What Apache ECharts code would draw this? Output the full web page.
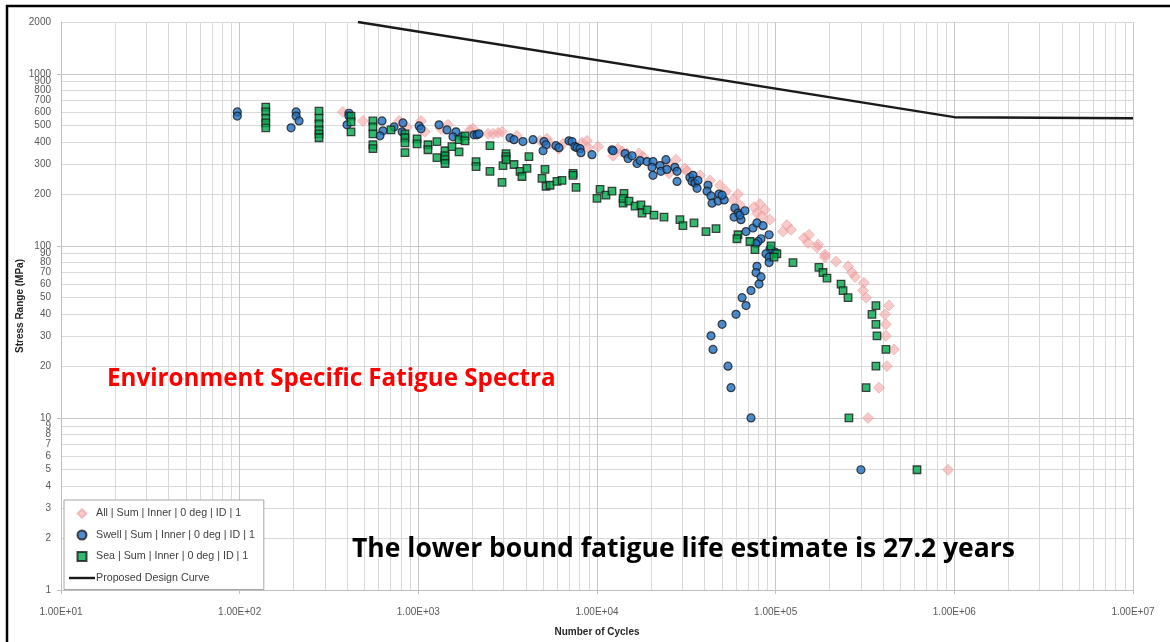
<!DOCTYPE html>
<html>
<head>
<meta charset="utf-8">
<script src="https://cdn.jsdelivr.net/npm/echarts@6/dist/echarts.min.js"></script>
<style>
html,body{margin:0;padding:0;background:#fff;}
#chart{width:1170px;height:642px;}
</style>
</head>
<body>
<div id="chart"></div>
<script>
// ---------- data ----------
const seriesNames = [
  'All | Sum | Inner | 0 deg | ID | 1',
  'Swell | Sum | Inner | 0 deg | ID | 1',
  'Sea | Sum | Inner | 0 deg | ID | 1',
  'Proposed Design Curve'
];

// [Number of cycles, Stress range (MPa)]
const allData = [
  [378,600],[490,532],[780,532],[865,491],[1035,532],[1089,460],[1340,479],[1466,505],
  [1945,472],[2023,479],[2455,448],[2618,448],[2793,454],[2940,460],[3565,436],[4800,408],
  [5250,419],[5460,392],[6120,367],[6450,392],[8240,397],[8790,408],[8910,372],[10130,377],
  [12300,334],[13100,367],[13800,353],[14720,344],[17180,344],[18070,330],[24950,301],[25290,264],
  [27670,317],[31050,282],[31900,271],[37700,257],[42850,240],[48750,225],[52720,208],[57700,185],
  [61520,200],[59160,162],[63100,173],[75700,168],[81660,175],[78560,155],[87100,162],[83750,149],
  [92900,142],[115600,132],[109900,121],[121900,124],[144200,111],[153800,116],[151800,104],
  [170300,98],[172600,102],[188800,89],[188800,86],[217800,81],[254200,76],[267400,70],[278000,66],
  [311900,61],[308300,55],[320600,50],[430500,45],[409000,40],[414000,35],[414000,30],[459000,25],
  [419700,20],[378500,15],[328900,10],[922000,5]
];

const swellData = [
  [97,600],[97,568],[207,600],[207,568],[215,532],[194,485],[409,590],[409,568],[399,505],
  [626,532],[634,466],[610,436],[731,491],[820,518],[811,460],[1010,498],[1035,479],[1306,505],
  [1446,472],[1624,460],[1563,430],[1754,430],[2050,442],[2130,442],[2186,448],[3260,425],
  [3430,414],[3850,404],[4385,414],[5050,404],[5185,387],[4990,357],[5890,382],[6120,372],
  [6970,408],[7245,404],[7530,377],[7730,372],[8035,367],[8130,348],[9370,339],[12130,362],
  [12300,357],[14360,344],[14930,322],[15710,334],[16750,301],[17420,313],[19060,309],[20580,309],
  [20320,286],[20580,257],[22540,293],[22800,271],[24320,317],[24620,278],[27290,286],[28050,271],
  [28050,237],[33110,250],[34430,257],[34030,237],[35320,231],[36300,216],[36730,240],[41800,225],
  [41300,208],[43470,195],[44050,177],[48220,200],[47640,182],[51520,185],[50120,197],[59160,166],
  [61520,155],[58480,147],[63970,142],[63100,151],[67300,160],[68230,121],[74650,127],[78560,136],
  [84920,131],[82800,110],[79640,106],[77620,103],[91850,116],[92900,96],[88310,90],[91850,86],
  [91850,80],[99100,92],[78560,76],[77620,70],[82800,66],[80700,60],[72780,55],[64860,50],
  [68230,45],[59980,40],[50120,35],[43470,30],[44600,25],[54080,20],[56230,15],[72780,10],[300000,5]
];

const seaData = [
  [140,640],[140,600],[140,553],[140,518],[140,485],[278,607],[278,553],[278,511],[278,472],
  [278,448],[278,425],[420,568],[420,525],[420,460],[557,532],[557,491],[557,448],[557,387],
  [557,367],[703,472],[842,448],[842,425],[842,397],[842,348],[984,419],[984,392],[1132,387],
  [1132,362],[1271,404],[1271,326],[1410,357],[1410,334],[1410,317],[1410,301],[1542,377],
  [1690,352],[1690,414],[1825,436],[1825,408],[2104,309],[2104,289],[2518,382],[2518,271],
  [2940,234],[2978,293],[3097,344],[3097,330],[3097,317],[3430,297],[3707,271],[3800,253],
  [4055,282],[4160,330],[5117,278],[4920,247],[5185,222],[5460,225],[5970,237],[6370,240],
  [7345,264],[7345,257],[7630,219],[10000,189],[10400,213],[11220,197],[12130,208],[14160,202],
  [14000,177],[14000,189],[15100,182],[16330,170],[17620,173],[17870,155],[19060,162],[20840,151],
  [23710,147],[29110,142],[30270,131],[34910,136],[40740,121],[46350,126],[61520,116],[60700,110],
  [71780,106],[76560,95],[94190,100],[101600,90],[97900,86],[125000,80],[174600,75],[184000,70],
  [193700,65],[232200,60],[238300,55],[254200,50],[364000,45],[345900,40],[364000,35],[369000,30],
  [414000,25],[364000,20],[320600,15],[257000,10],[618000,5]
];

const designCurve = [[459,2000],[1000000,560],[10000000,552]];

// axis ticks
const xDecades = [10,100,1000,10000,100000,1000000,10000000];
const xMultipliers = [1,2,3,4,5,6,7,8,9];
const yTickValues = [1,2,3,4,5,6,7,8,9,10,20,30,40,50,60,70,80,90,
  100,200,300,400,500,600,700,800,900,1000,2000];
const yDecades = [1,10,100,1000];

const xGridValues = [];
xDecades.forEach(function(d){ xMultipliers.forEach(function(m){ if (d*m <= 10000000) xGridValues.push(d*m); }); });

// ---------- chart ----------
const chart = echarts.init(document.getElementById('chart'), null, {renderer:'canvas'});
const labelFont = 'Liberation Sans, Arial, sans-serif';

function xFmt(v){
  const e = Math.round(Math.log10(v));
  return '1.00E+' + (e < 10 ? '0' + e : '' + e);
}

const option = {
  animation: false,
  backgroundColor: '#fff',
  grid: {left: 61, right: 37, top: 22, bottom: 46, containLabel: false},
  xAxis: [{
    type: 'log', logBase: 10, min: 10, max: 10000000,
    axisLine: {show: true, lineStyle: {color: '#bfbfbf', width: 1}},
    axisTick: {show: false, customValues: xGridValues},
    splitLine: {show: true, lineStyle: {color: '#d9d9d9', width: 1}},
    axisLabel: {customValues: xDecades, formatter: xFmt, margin: 17,
      fontFamily: labelFont, fontSize: 10, color: '#595959'},
    name: 'Number of Cycles', nameLocation: 'middle', nameGap: 37, nameMoveOverlap: false,
    nameTextStyle: {fontFamily: labelFont, fontWeight: 'bold', fontSize: 10, color: '#262626'}
  },{
    type: 'log', logBase: 10, min: 10, max: 10000000, position: 'bottom',
    axisLine: {show: false},
    axisTick: {show: true, customValues: xDecades, length: 4, lineStyle: {color: '#bfbfbf'}},
    splitLine: {show: true, lineStyle: {color: '#c6c6c6', width: 1}},
    axisLabel: {show: false}
  }],
  yAxis: [{
    type: 'log', logBase: 10, min: 1, max: 2000,
    axisLine: {show: true, lineStyle: {color: '#bfbfbf', width: 1}},
    axisTick: {show: false, customValues: yTickValues},
    splitLine: {show: true, lineStyle: {color: '#d9d9d9', width: 1}},
    axisLabel: {customValues: yTickValues, formatter: function(v){ return String(v); },
      margin: 10, fontFamily: labelFont, fontSize: 10, color: '#595959'},
    name: 'Stress Range (MPa)', nameLocation: 'middle', nameGap: 36, nameMoveOverlap: false,
    nameTextStyle: {fontFamily: labelFont, fontWeight: 'bold', fontSize: 10, color: '#262626'}
  },{
    type: 'log', logBase: 10, min: 1, max: 2000, position: 'left',
    axisLine: {show: false},
    axisTick: {show: true, customValues: yDecades, length: 4, lineStyle: {color: '#bfbfbf'}},
    splitLine: {show: true, lineStyle: {color: '#cacaca', width: 1}},
    axisLabel: {show: false}
  }],
  legend: {
    orient: 'vertical', left: 64, top: 500,
    padding: [8, 9, 6, 5], itemGap: 10.5, itemWidth: 26, itemHeight: 9,
    backgroundColor: '#fff', borderColor: '#a6a6a6', borderWidth: 1,
    symbolKeepAspect: true,
    textStyle: {fontFamily: labelFont, fontSize: 10.7, color: '#404040', padding: [0,0,0,-4]},
    data: [
      {name: seriesNames[0], icon: 'path://M5,0L10,5L5,10L0,5Z'},
      {name: seriesNames[1], icon: 'path://M5,0A5,5,0,1,1,4.99,0Z'},
      {name: seriesNames[2], icon: 'path://M0,0H10V10H0Z'},
      {name: seriesNames[3], icon: 'path://M0,0H26V2.4H0Z'}
    ]
  },
  series: [{
    name: seriesNames[0], type: 'scatter', data: allData,
    symbol: 'diamond', symbolSize: 11,
    itemStyle: {color: 'rgba(242,160,160,0.7)', borderColor: 'rgba(225,140,140,0.55)', borderWidth: 1}
  },{
    name: seriesNames[1], type: 'scatter', data: swellData,
    symbol: 'circle', symbolSize: 8,
    itemStyle: {color: '#1f6fc0', borderColor: '#1a1a1a', borderWidth: 1.2}
  },{
    name: seriesNames[2], type: 'scatter', data: seaData,
    symbol: 'rect', symbolSize: 7.5,
    itemStyle: {color: '#00a84a', borderColor: '#1a1a1a', borderWidth: 1.3}
  },{
    name: seriesNames[3], type: 'line', data: designCurve,
    symbol: 'none', lineStyle: {color: '#1a1a1a', width: 2.5}, itemStyle: {color: '#1a1a1a'},
    z: 1
  }],
  graphic: [{
    type: 'rect', silent: true, z: 100,
    shape: {x: 7, y: 6, width: 1200, height: 700},
    style: {fill: 'none', stroke: '#000', lineWidth: 2.5}
  },{
    type: 'text', silent: true, left: 107, top: 367, z: 100,
    style: {text: 'Environment Specific Fatigue Spectra', fill: '#ff0000',
      font: 'bold 24.2px "Open Sans", sans-serif'}
  },{
    type: 'text', silent: true, left: 352, top: 536, z: 100,
    style: {text: 'The lower bound fatigue life estimate is 27.2 years', fill: '#000',
      font: 'bold 26.5px "Open Sans", sans-serif'}
  }]
};
chart.setOption(option);
</script>
</body>
</html>
